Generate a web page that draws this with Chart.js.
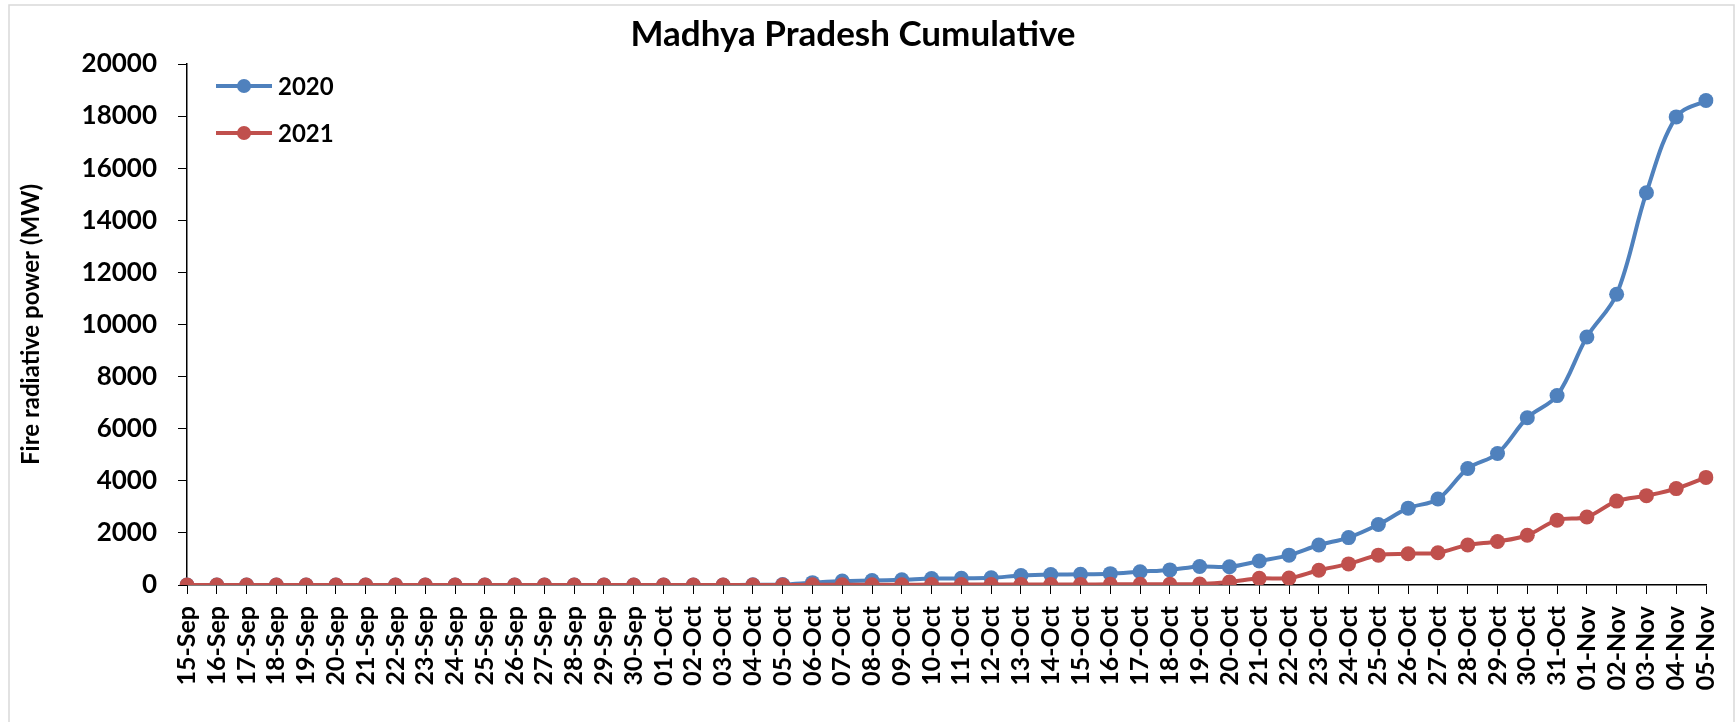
<!DOCTYPE html>
<html>
<head>
<meta charset="utf-8">
<title>Madhya Pradesh Cumulative</title>
<script src="https://cdn.jsdelivr.net/npm/chart.js@4.4.1/dist/chart.umd.min.js"></script>
<style>
  html, body { margin: 0; padding: 0; background: #fff; }
  #wrap { position: relative; width: 1736px; height: 722px; }
  #legend { position: absolute; left: 216px; top: 62px; font: bold 24px Lato, sans-serif; }
  .legend-item { display: flex; align-items: center; height: 47px; }
  .legend-line { position: relative; width: 56px; height: 4px; margin-right: 6px; }
  .legend-dot { position: absolute; left: 21px; top: -5px; width: 14px; height: 14px; border-radius: 50%; }
</style>
</head>
<body>
<div id="wrap">
  <canvas id="chart" width="1736" height="722"></canvas>
  <div id="legend"></div>
</div>
<script>
const labels = ["15-Sep", "16-Sep", "17-Sep", "18-Sep", "19-Sep", "20-Sep", "21-Sep", "22-Sep", "23-Sep", "24-Sep",
  "25-Sep", "26-Sep", "27-Sep", "28-Sep", "29-Sep", "30-Sep", "01-Oct", "02-Oct", "03-Oct", "04-Oct",
  "05-Oct", "06-Oct", "07-Oct", "08-Oct", "09-Oct", "10-Oct", "11-Oct", "12-Oct", "13-Oct", "14-Oct",
  "15-Oct", "16-Oct", "17-Oct", "18-Oct", "19-Oct", "20-Oct", "21-Oct", "22-Oct", "23-Oct", "24-Oct",
  "25-Oct", "26-Oct", "27-Oct", "28-Oct", "29-Oct", "30-Oct", "31-Oct", "01-Nov", "02-Nov", "03-Nov",
  "04-Nov", "05-Nov"];

const values2020 = [0, 0, 0, 0, 0, 0, 0, 0, 0, 0,
  0, 0, 0, 0, 0, 0, 0, 0, 0, 5,
  20, 90, 150, 170, 200, 250, 255, 280, 360, 400,
  410, 435, 510, 580, 710, 700, 920, 1145, 1535, 1820,
  2320, 2950, 3300, 4470, 5050, 6420, 7270, 9520, 11160, 15060,
  17970, 18600];

const values2021 = [0, 0, 0, 0, 0, 0, 0, 0, 0, 0,
  0, 0, 0, 0, 0, 0, 0, 0, 0, 0,
  0, 5, 10, 10, 10, 15, 15, 15, 20, 20,
  20, 25, 30, 30, 40, 115, 255, 265, 565, 810,
  1145, 1200, 1240, 1535, 1670, 1910, 2490, 2610, 3220, 3430,
  3700, 4130];

const yTicks = { min: 0, max: 20000, step: 2000 };

const seriesNames = ["2020", "2021"];
const seriesColors = ["#4F81BD", "#C0504D"];

const ctx = document.getElementById("chart");

// grey frame round the whole chart, like the Excel chart area
const frame = {
  id: "frame",
  beforeDraw(chart) {
    const c = chart.ctx;
    c.save();
    c.strokeStyle = "#d9d9d9";
    c.lineWidth = 1.5;
    c.strokeRect(9, 5, 1725, 730);
    c.restore();
  }
};

const chart = new Chart(ctx, {
  type: "line",
  data: {
    labels: labels,
    datasets: [{
      label: seriesNames[0],
      data: values2020,
      borderColor: seriesColors[0],
      backgroundColor: seriesColors[0],
      borderWidth: 4,
      pointRadius: 7.5,
      pointBorderWidth: 0,
      tension: 0.35,
      order: 1
    }, {
      label: seriesNames[1],
      data: values2021,
      borderColor: seriesColors[1],
      backgroundColor: seriesColors[1],
      borderWidth: 4,
      pointRadius: 7.5,
      pointBorderWidth: 0,
      tension: 0.35,
      order: 0
    }]
  },
  options: {
    responsive: false,
    animation: false,
    layout: {
      padding: { left: 0, right: 30, top: 0, bottom: 0 }
    },
    scales: {
      x: {
        offset: false,
        grid: { drawOnChartArea: false, drawTicks: true, tickLength: 9, color: "#000", tickColor: "#000" },
        border: { display: true, color: "#000", width: 1.5 },
        ticks: {
          autoSkip: false,
          maxRotation: 90,
          minRotation: 90,
          padding: 12,
          color: "#000",
          font: { family: "Lato", size: 25, weight: "bold" }
        },
        afterFit(scale) {
          scale.height = 137;
          // the last label overhang should not push the plot in
          scale.paddingLeft = 0;
          scale.paddingRight = 0;
        }
      },
      y: {
        min: yTicks.min,
        max: yTicks.max,
        grid: { drawOnChartArea: false, drawTicks: true, tickLength: 9, color: "#000", tickColor: "#000" },
        border: { display: true, color: "#000", width: 1.5 },
        ticks: {
          stepSize: yTicks.step,
          padding: 21,
          color: "#000",
          font: { family: "Lato", size: 26, weight: "bold" },
          callback: v => String(v)
        },
        title: {
          display: true,
          text: "Fire radiative power (MW)",
          color: "#000",
          padding: { top: 17, bottom: 0 },
          font: { family: "Lato", size: 24, weight: "bold" }
        },
        afterFit(scale) { scale.width = 187; }
      }
    },
    plugins: {
      legend: { display: false },
      tooltip: { enabled: false },
      title: {
        display: true,
        text: "Madhya Pradesh Cumulative",
        color: "#000",
        padding: { top: 14, bottom: 8 },
        font: { family: "Lato", size: 35, weight: "bold", lineHeight: 1.2 }
      }
    }
  },
  plugins: [frame]
});

// legend in the top left corner of the plot
const legend = document.getElementById("legend");
seriesNames.forEach((name, i) => {
  legend.innerHTML +=
  `<div class="legend-item">
     <div class="legend-line" style="background:${seriesColors[i]}">
       <div class="legend-dot" style="background:${seriesColors[i]}"></div>
     </div>
     <span>${name}</span>
   </div>`;
});
</script>
</body>
</html>
